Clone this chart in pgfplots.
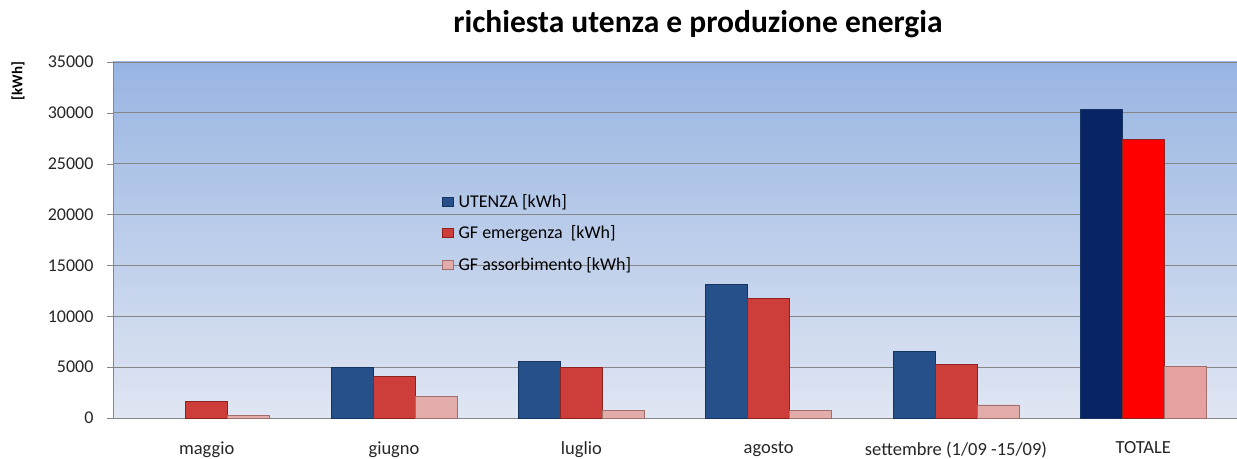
\documentclass[border=0pt]{standalone}
\usepackage{fontspec}
\setmainfont{Carlito}
\usepackage{pgfplots}
\pgfplotsset{compat=1.18}

\definecolor{bgtop}{RGB}{152,181,226}
\definecolor{bgbot}{RGB}{224,230,243}
\definecolor{gridc}{RGB}{134,134,134}
\definecolor{uten}{RGB}{37,80,138}
\definecolor{utenD}{RGB}{22,52,96}
\definecolor{emer}{RGB}{205,62,59}
\definecolor{emerD}{RGB}{140,35,33}
\definecolor{asso}{RGB}{226,172,170}
\definecolor{assoD}{RGB}{160,110,108}
\definecolor{totU}{RGB}{8,36,100}
\definecolor{totE}{RGB}{255,0,0}
\definecolor{totA}{RGB}{230,160,158}

\begin{document}
\begin{tikzpicture}[x=1pt,y=1pt]
\useasboundingbox (0,0) rectangle (1237,458);
\begin{axis}[
    at={(113pt,40pt)}, anchor=south west,
    width=1124pt, height=356pt, scale only axis,
    ybar, bar width=42pt,
    xmin=-0.5, xmax=5.5,
    ymin=0, ymax=35000,
    ytick={0,5000,...,35000},
    xtick={0,...,5},
    xticklabels={maggio, giugno, luglio, agosto, settembre (1/09 -15/09), TOTALE},
    minor xtick={0.5,1.5,...,4.5},
    axis x line*=bottom, axis y line*=left,
    axis line style={gridc, -},
    tick style={gridc},
    tick align=outside,
    major tick length=6pt,
    minor tick length=6pt,
    xtick style={draw=none},
    minor x tick style={gridc},
    ymajorgrids, grid style={gridc, line width=0.8pt},
    axis background/.style={shade, top color=bgtop, bottom color=bgbot},
    scaled y ticks=false,
    /pgf/number format/assume math mode=true,
    /pgf/number format/1000 sep={},
    yticklabel style={font=\fontsize{18}{20}\selectfont, text=black!85, xshift=-10pt},
    xticklabel style={font=\fontsize{18.5}{20}\selectfont, text=black!85, yshift=-14pt},
    legend style={at={(0.2927,0.635)}, anchor=north west, draw=none, fill=none,
        inner sep=0pt, row sep=13pt, font=\fontsize{18}{20}\selectfont,
        cells={anchor=west}},
    legend image code/.code={\draw[#1] (0pt,-4.5pt) rectangle (11pt,4.5pt);},
]
\addplot[bar shift=-42pt, fill=uten, draw=utenD] coordinates {
    (1,5000) (2,5600) (3,13150) (4,6550)
};
\addplot[bar shift=0pt, fill=emer, draw=emerD] coordinates {
    (0,1650) (1,4100) (2,4950) (3,11750) (4,5280)
};
\addplot[bar shift=42pt, fill=asso, draw=assoD] coordinates {
    (0,250) (1,2150) (2,780) (3,780) (4,1300)
};
\addplot[forget plot, bar shift=-42pt, fill=totU, draw=utenD] coordinates {(5,30350)};
\addplot[forget plot, bar shift=0pt, fill=totE, draw=emerD] coordinates {(5,27450)};
\addplot[forget plot, bar shift=42pt, fill=totA, draw=assoD] coordinates {(5,5100)};
\legend{\hspace{3pt}UTENZA [kWh], \hspace{3pt}GF emergenza\ \ [kWh], \hspace{3pt}GF assorbimento [kWh]}
\end{axis}
\node[font=\bfseries\fontsize{31.5}{33}\selectfont, anchor=base] at (698,425)
    {richiesta utenza e produzione energia};
\node[font=\bfseries\fontsize{15}{17}\selectfont, rotate=90] at (18,377) {[kWh]};
\end{tikzpicture}
\end{document}
